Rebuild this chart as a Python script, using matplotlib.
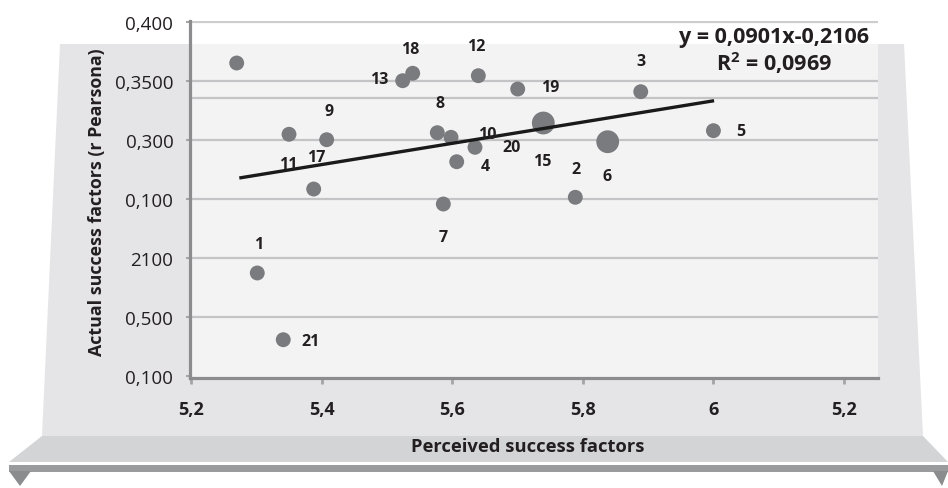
import matplotlib
matplotlib.use("Agg")
import matplotlib.pyplot as plt
from matplotlib.patches import Polygon

# ---------------- data ----------------
point_labels = ["", "1", "2", "3", "4", "5", "6", "7", "8", "9", "10",
                "11", "12", "13", "15", "17", "18", "19", "20", "21"]
perceived = [5.270, 5.3015, 5.7885, 5.8887, 5.6069, 6.000, 5.8381, 5.5864,
             5.5772, 5.4078, 5.5982, 5.3501, 5.640, 5.5242, 5.7395, 5.3879,
             5.5395, 5.7003, 5.6349, 5.3413]
actual = [5.305, 1.746, 3.029, 4.819, 3.632, 4.158, 3.971, 2.915,
          4.124, 4.005, 4.046, 4.097, 5.090, 5.005, 4.288, 3.169,
          5.131, 4.864, 3.876, 0.615]
point_size = [1, 1, 1, 1, 1, 1, 2.35, 1, 1, 1, 1, 1, 1, 1, 2.35, 1, 1, 1, 1, 1]

trend_x = [5.274, 6.001]
trend_y = [3.356, 4.666]

x_ticks = [5.2, 5.4, 5.6, 5.8, 6.0, 6.2]
x_tick_labels = ["5,2", "5,4", "5,6", "5,8", "6", "5,2"]
y_ticks = [0, 1, 2, 3, 4, 5, 6]
y_tick_labels = ["0,100", "0,500", "2100", "0,100", "0,300", "0,3500", "0,400"]
extra_grid = [4.72]

equation = "y = 0,0901x-0,2106"
r2_text = "R$^{2}$ = 0,0969"
x_title = "Perceived success factors"
y_title = "Actual success factors (r Pearsona)"

# ---------------- layout ----------------
W, H = 948, 489
plt.rcParams['font.family'] = ['Open Sans', 'DejaVu Sans']
plt.rcParams['mathtext.fontset'] = 'custom'
plt.rcParams['mathtext.rm'] = 'Open Sans:bold'
plt.rcParams['mathtext.bf'] = 'Open Sans:bold'
fig = plt.figure(figsize=(W / 100, H / 100), dpi=100, facecolor="white")

def P(x, y):
    return (x / W, 1 - y / H)

def poly(pts, color, z=-10):
    fig.add_artist(Polygon([P(*p) for p in pts], closed=True, transform=fig.transFigure,
                           facecolor=color, edgecolor="none", zorder=z))

# back panel
poly([(60, 45), (904, 45), (923, 437), (42, 437)], "#e5e5e7")
# shelf
poly([(42, 437), (923, 437), (948, 463), (9, 463)], "#d3d4d6")
# bottom band
poly([(9, 466), (948, 466), (948, 473), (9, 473)], "#9a9b9d")
# triangles
poly([(9, 472), (31, 472), (20, 487)], "#8b8c8e")
poly([(933, 472), (948, 472), (942, 487)], "#8b8c8e")

ax_l, ax_r, ax_t, ax_b = 190, 878, 22, 379
ax = fig.add_axes([ax_l / W, 1 - ax_b / H, (ax_r - ax_l) / W, (ax_b - ax_t) / H])
ax.set_facecolor((1, 1, 1, 0.55))

ax.set_xlim(5.1985, 6.252)
ax.set_ylim(-0.034, 6.017)

for yv in y_ticks[1:]:
    ax.axhline(yv, color="#c4c4c6" if yv < 6 else "#cdcdcf", lw=1.6, zorder=1)
for yv in extra_grid:
    ax.axhline(yv, color="#c4c4c6", lw=1.6, zorder=1)

sizes = [115 * s for s in point_size]
ax.scatter(perceived, actual, s=sizes, color="#7a7b7e", edgecolor="none", zorder=3)

ax.plot(trend_x, trend_y, color="#1a1a1a", lw=2.4, zorder=4, solid_capstyle="butt")

# label offsets in pixels (dx, dy up)
offsets = {"1": (1, 29), "2": (1, 28), "3": (0, 31), "4": (29, -4), "5": (27, 0),
           "6": (-1, -34), "7": (0, -33), "8": (3, 30), "9": (2, 29), "10": (36, 3),
           "11": (-1, -30), "12": (-2, 30), "13": (-23, 2), "15": (-1, -38),
           "17": (3, 32), "18": (-3, 24), "19": (32, 2), "20": (37, 0), "21": (27, -1)}
for lab, xv, yv in zip(point_labels, perceived, actual):
    if not lab:
        continue
    dx, dy = offsets[lab]
    ax.annotate(lab, (xv, yv), xytext=(dx * 0.72, dy * 0.72), textcoords="offset points",
                ha="center", va="center", fontsize=11.5, fontweight="bold",
                color="#231f20", zorder=5)

for s in ["top", "right"]:
    ax.spines[s].set_visible(False)
for s in ["left", "bottom"]:
    ax.spines[s].set_color("#8c8c8e")
    ax.spines[s].set_linewidth(2.3)

ax.set_xticks(x_ticks)
ax.set_xticklabels(x_tick_labels, fontsize=13, fontweight="bold", color="#231f20")
ax.set_yticks(y_ticks)
ax.set_yticklabels(y_tick_labels, fontsize=13.5, color="#231f20")
ax.tick_params(axis="x", length=4, width=2, color="#a5a5a7", pad=12)
ax.tick_params(axis="y", length=3, width=1.5, color="#a5a5a7", pad=9)

fig.text(*P(774, 38), equation, ha="center", va="center", fontsize=15.5,
         fontweight="bold", color="#231f20")
fig.text(*P(774, 63), r2_text, ha="center", va="center", fontsize=15.5,
         fontweight="bold", color="#231f20")

fig.text(*P(528, 447), x_title, ha="center", va="center", fontsize=13.2,
         fontweight="bold", color="#231f20")
fig.text(*P(97, 202), y_title, ha="center", va="center", rotation=90, fontsize=12.8,
         fontweight="bold", color="#231f20")

fig.savefig("out.png", dpi=100, facecolor="white")
